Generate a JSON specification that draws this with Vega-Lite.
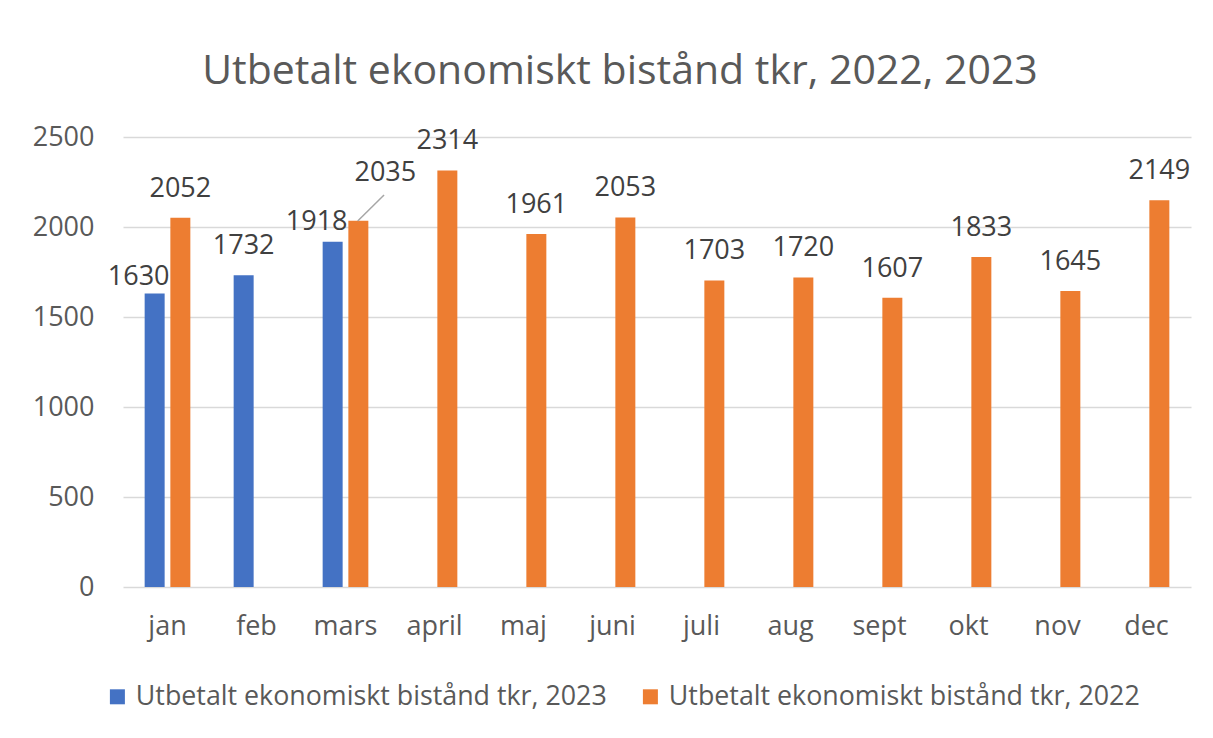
{
  "$schema": "https://vega.github.io/schema/vega-lite/v6.json",
  "autosize": {"type": "none"},
  "width": 1068,
  "height": 450,
  "padding": {"left": 123, "top": 137, "right": 22, "bottom": 151},
  "background": "white",
  "config": {
    "font": "Open Sans",
    "view": {"stroke": null},
    "axis": {"labelFont": "Open Sans", "labelColor": "#595959", "labelFontSize": 27, "domain": false, "ticks": false, "title": null}
  },
  "title": {
    "text": "Utbetalt ekonomiskt bistånd tkr, 2022, 2023",
    "fontSize": 41,
    "fontWeight": "normal",
    "font": "Open Sans",
    "color": "#595959",
    "anchor": "middle",
    "frame": "group",
    "dx": -37,
    "offset": 30
  },
  "datasets": {
    "bars": [
      {"month": "jan", "series": "Utbetalt ekonomiskt bistånd tkr, 2023", "value": 1630},
      {"month": "feb", "series": "Utbetalt ekonomiskt bistånd tkr, 2023", "value": 1732},
      {"month": "mars", "series": "Utbetalt ekonomiskt bistånd tkr, 2023", "value": 1918},
      {"month": "jan", "series": "Utbetalt ekonomiskt bistånd tkr, 2022", "value": 2052},
      {"month": "mars", "series": "Utbetalt ekonomiskt bistånd tkr, 2022", "value": 2035},
      {"month": "april", "series": "Utbetalt ekonomiskt bistånd tkr, 2022", "value": 2314},
      {"month": "maj", "series": "Utbetalt ekonomiskt bistånd tkr, 2022", "value": 1961},
      {"month": "juni", "series": "Utbetalt ekonomiskt bistånd tkr, 2022", "value": 2053},
      {"month": "juli", "series": "Utbetalt ekonomiskt bistånd tkr, 2022", "value": 1703},
      {"month": "aug", "series": "Utbetalt ekonomiskt bistånd tkr, 2022", "value": 1720},
      {"month": "sept", "series": "Utbetalt ekonomiskt bistånd tkr, 2022", "value": 1607},
      {"month": "okt", "series": "Utbetalt ekonomiskt bistånd tkr, 2022", "value": 1833},
      {"month": "nov", "series": "Utbetalt ekonomiskt bistånd tkr, 2022", "value": 1645},
      {"month": "dec", "series": "Utbetalt ekonomiskt bistånd tkr, 2022", "value": 2149}
    ],
    "leader": [
      {"lx": 2.637, "lx2": 2.933, "ly": 2033, "ly2": 2178}
    ]
  },
  "layer": [
    {
      "data": {"name": "bars"},
      "encoding": {
        "x": {
          "field": "month", "type": "nominal",
          "sort": ["jan", "feb", "mars", "april", "maj", "juni", "juli", "aug", "sept", "okt", "nov", "dec"],
          "scale": {"paddingInner": 0, "paddingOuter": 0},
          "axis": {"labelAngle": 0, "labelPadding": 26}
        },
        "y": {
          "field": "value", "type": "quantitative",
          "scale": {"domain": [0, 2500], "nice": false},
          "axis": {"values": [0, 500, 1000, 1500, 2000, 2500], "format": "d", "grid": true, "gridColor": "#D9D9D9", "gridWidth": 1.6, "labelPadding": 29}
        },
        "xOffset": {
          "field": "series", "type": "nominal",
          "sort": ["Utbetalt ekonomiskt bistånd tkr, 2023", "Utbetalt ekonomiskt bistånd tkr, 2022"],
          "scale": {"paddingInner": 0.222, "paddingOuter": 0.8425}
        }
      },
      "layer": [
        {
          "mark": {"type": "bar"},
          "encoding": {
            "color": {
              "field": "series", "type": "nominal",
              "scale": {"domain": ["Utbetalt ekonomiskt bistånd tkr, 2023", "Utbetalt ekonomiskt bistånd tkr, 2022"], "range": ["#4472C4", "#ED7D31"]},
              "legend": {
                "orient": "none", "legendX": -19, "legendY": 546, "direction": "horizontal",
                "title": null, "symbolType": "square", "symbolSize": 225, "symbolStrokeWidth": 0,
                "labelFontSize": 26.8, "labelColor": "#595959", "labelFont": "Open Sans",
                "columnPadding": 30, "labelOffset": 5, "padding": 0, "labelLimit": 800
              }
            }
          }
        },
        {
          "transform": [{"filter": "!((datum.month == 'jan' || datum.month == 'mars') && datum.series == 'Utbetalt ekonomiskt bistånd tkr, 2023') && !(datum.month == 'mars' && datum.series == 'Utbetalt ekonomiskt bistånd tkr, 2022')"}],
          "mark": {"type": "text", "fontSize": 27, "color": "#404040", "baseline": "alphabetic", "dy": -21},
          "encoding": {"text": {"field": "value", "type": "quantitative", "format": "d"}}
        },
        {
          "transform": [{"filter": "datum.month == 'jan' && datum.series == 'Utbetalt ekonomiskt bistånd tkr, 2023'"}],
          "mark": {"type": "text", "fontSize": 27, "color": "#404040", "baseline": "alphabetic", "dy": -9, "dx": -16},
          "encoding": {"text": {"field": "value", "type": "quantitative", "format": "d"}}
        },
        {
          "transform": [{"filter": "datum.month == 'mars' && datum.series == 'Utbetalt ekonomiskt bistånd tkr, 2023'"}],
          "mark": {"type": "text", "fontSize": 27, "color": "#404040", "baseline": "alphabetic", "dy": -12, "dx": -16},
          "encoding": {"text": {"field": "value", "type": "quantitative", "format": "d"}}
        },
        {
          "transform": [{"filter": "datum.month == 'mars' && datum.series == 'Utbetalt ekonomiskt bistånd tkr, 2022'"}],
          "mark": {"type": "text", "fontSize": 27, "color": "#404040", "baseline": "alphabetic", "dy": -40, "dx": 27},
          "encoding": {"text": {"field": "value", "type": "quantitative", "format": "d"}}
        }
      ]
    },
    {
      "data": {"name": "leader"},
      "mark": {"type": "rule", "color": "#A6A6A6", "strokeWidth": 1.5},
      "encoding": {
        "x": {"field": "lx", "type": "quantitative", "scale": {"domain": [0, 12], "nice": false, "zero": false}, "axis": null},
        "x2": {"field": "lx2"},
        "y": {"field": "ly", "type": "quantitative"},
        "y2": {"field": "ly2"}
      }
    }
  ],
  "resolve": {"scale": {"x": "independent"}, "axis": {"x": "independent"}}
}
